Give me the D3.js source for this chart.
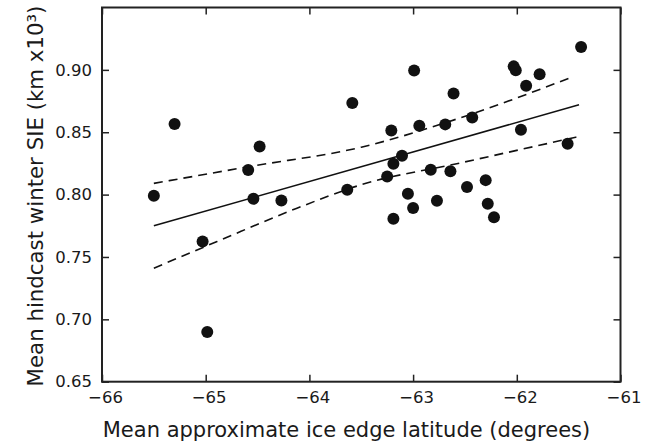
<!DOCTYPE html>
<html><head><meta charset="utf-8">
<script src="https://cdn.jsdelivr.net/npm/d3@7"></script>
<style>body{margin:0;background:#fff}svg{display:block}text{font-family:"DejaVu Sans",sans-serif;fill:#1a1a1a}</style>
</head><body><svg id="c" width="649" height="444"></svg>
<script>
const latitude = [-65.50,-65.30,-65.03,-64.985,-64.59,-64.54,-64.48,-64.27,-63.635,-63.586,-62.99,-62.03,-62.01,-61.78,-61.91,-61.38,-62.61,-63.21,-62.94,-62.69,-62.43,-61.96,-61.51,-63.107,-63.19,-63.25,-62.83,-62.64,-62.30,-62.48,-63.05,-62.77,-63.00,-63.19,-62.28,-62.22];
const sie = [0.799,0.8566,0.7624,0.6899,0.8197,0.7966,0.8386,0.7953,0.8038,0.8734,0.8994,0.9028,0.8996,0.8964,0.8873,0.9184,0.8811,0.8514,0.8552,0.8563,0.8619,0.852,0.8408,0.8311,0.8247,0.8145,0.8199,0.8188,0.8116,0.806,0.8006,0.795,0.7892,0.7806,0.7926,0.7819];
const fitX = [-65.5,-61.4];
const fitY = [0.775,0.872];
const upperX = [-65.5,-64.57,-63.5,-62.55,-61.45];
const upperY = [0.809,0.8226,0.838,0.8614,0.8948];
const lowerX = [-65.5,-64.89,-64.12,-63.5,-62.55,-61.4];
const lowerY = [0.741,0.7624,0.7891,0.8079,0.8253,0.8466];
const xTicks = [-66,-65,-64,-63,-62,-61];
const yTicks = [0.65,0.70,0.75,0.80,0.85,0.90];
const xTitle = "Mean approximate ice edge latitude (degrees)";
const yTitle = "Mean hindcast winter SIE (km x10³)";

const L=102,R=620.5,T=7.5,B=381.7;
const svg=d3.select("#c");
const x=d3.scaleLinear().domain([-66,-61]).range([L,R]);
const y=d3.scaleLinear().domain([0.65,0.95]).range([B,T]);
const fmtX=d=>d3.format("d")(d).replace("-","\u2212");
const g=svg.append("g");

// axes
const ax=g.append("g").attr("transform",`translate(0,${B})`).call(d3.axisBottom(x).tickValues(xTicks).tickSize(-7).tickPadding(6).tickFormat(fmtX));
const axT=g.append("g").attr("transform",`translate(0,${T})`).call(d3.axisTop(x).tickValues(xTicks).tickSize(-7).tickFormat(""));
const ay=g.append("g").attr("transform",`translate(${L},0)`).call(d3.axisLeft(y).tickValues(yTicks).tickSize(-7).tickPadding(10).tickFormat(d3.format(".2f")));
const ayR=g.append("g").attr("transform",`translate(${R},0)`).call(d3.axisRight(y).tickValues(yTicks).tickSize(-7).tickFormat(""));
[ax,axT,ay,ayR].forEach(a=>{a.select(".domain").remove();a.selectAll("line").attr("stroke","#222").attr("stroke-width",1.5);a.selectAll("text").style("font-size","16.5px").style("font-family","DejaVu Sans").attr("fill","#1a1a1a");});
ax.selectAll("text").attr("dy","0.95em").attr("dx","3");
g.append("rect").attr("x",L).attr("y",T).attr("width",R-L).attr("height",B-T).attr("fill","none").attr("stroke","#222").attr("stroke-width",2);

// lines
const line=d3.line().x(d=>x(d[0])).y(d=>y(d[1]));
const sm=d3.line().x(d=>x(d[0])).y(d=>y(d[1])).curve(d3.curveMonotoneX);
g.append("path").attr("d",line(d3.zip(fitX,fitY))).attr("fill","none").attr("stroke","#111").attr("stroke-width",1.6);
g.append("path").attr("d",sm(d3.zip(upperX,upperY))).attr("fill","none").attr("stroke","#111").attr("stroke-width",1.6).attr("stroke-dasharray","9,6");
g.append("path").attr("d",sm(d3.zip(lowerX,lowerY))).attr("fill","none").attr("stroke","#111").attr("stroke-width",1.6).attr("stroke-dasharray","9,6");

// points
g.selectAll("circle").data(d3.zip(latitude,sie)).join("circle").attr("cx",d=>x(d[0])).attr("cy",d=>y(d[1])).attr("r",6).attr("fill","#111");

// titles
svg.append("text").attr("x",346.5).attr("y",437).attr("text-anchor","middle").style("font-size","21px").text(xTitle);
svg.append("text").attr("transform",`translate(43,196) rotate(-90)`).attr("text-anchor","middle").style("font-size","21.3px").text(yTitle);
</script></body></html>
